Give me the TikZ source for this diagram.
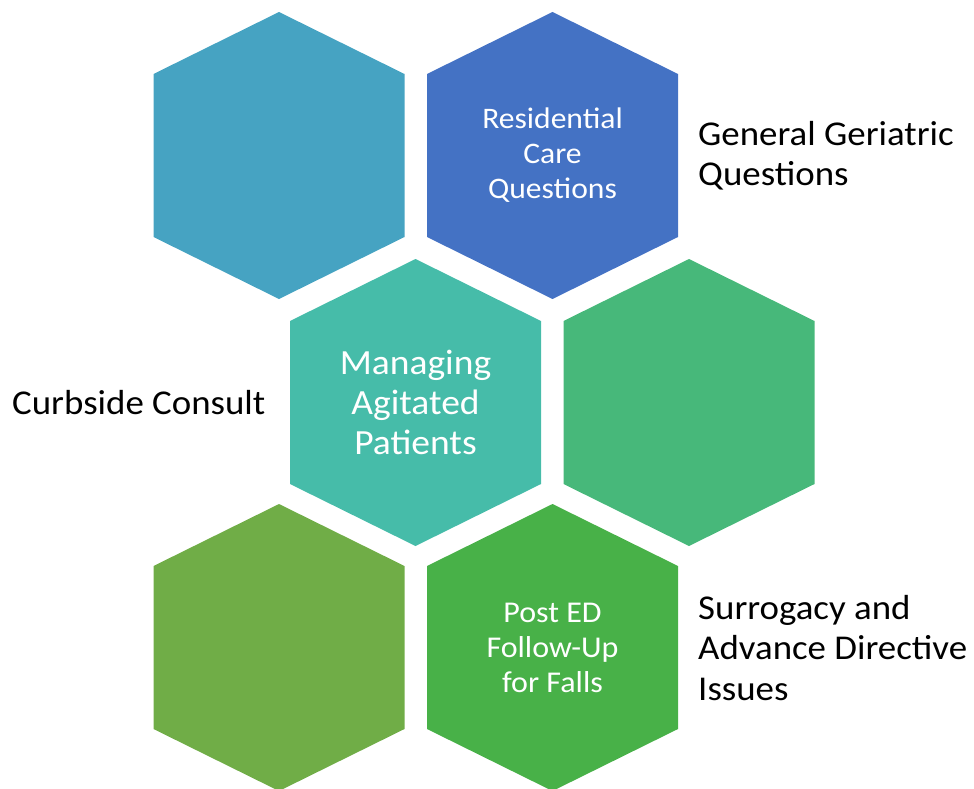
\documentclass[tikz,border=0pt]{standalone}
\usepackage{fontspec}
\setmainfont{Carlito}[FakeStretch=1.06]
\usetikzlibrary{positioning}
\usetikzlibrary{calc}

\definecolor{hexteal}{HTML}{46A3C2}
\definecolor{hexblue}{HTML}{4472C4}
\definecolor{hexmint}{HTML}{46BCA9}
\definecolor{hexjade}{HTML}{47B87A}
\definecolor{hexolive}{HTML}{70AD47}
\definecolor{hexgreen}{HTML}{48B148}

\begin{document}
\begin{tikzpicture}[x=1pt, y=-1pt,
    hextext/.style={white, align=center, inner sep=0pt, font=\fontsize{29.8}{35}\selectfont},
    sidetext/.style={black, align=left, anchor=west, inner sep=0pt, font=\fontsize{34.8}{40.5}\selectfont}]

  \useasboundingbox (0,0) rectangle (974,789);

	%hexagon size
 \def\w{125.5};
 \def\h{143.5};
 \def\s{81.5};

	%draw hexagons
    \foreach \cx/\cy/\col/\name in { 279/155.5/hexteal/H1, 552.5/155.5/hexblue/H2,
        415.5/402.5/hexmint/H3, 689/402.5/hexjade/H4,
        279/647.5/hexolive/H5, 552.5/647.5/hexgreen/H6}{
         \fill[\col] (\cx,\cy-\h) -- (\cx+\w,\cy-\s) -- (\cx+\w,\cy+\s) -- (\cx,\cy+\h)
              -- (\cx-\w,\cy+\s) -- (\cx-\w,\cy-\s) -- cycle;
         \coordinate (\name) at (\cx,\cy);
    }

%text in the hexagons
  \node[hextext] (care) at (H2) {Residential\\Care\\Questions};
  \node[hextext, font=\fontsize{35.4}{40}\selectfont] (agit) at (H3) {Managing\\Agitated\\Patients};
  \node[hextext, font=\fontsize{30.2}{35}\selectfont] (falls) at (H6) {Post ED\\Follow-Up\\for Falls};

%labels beside
  \node[sidetext] (geri) at (698,155.5) {General Geriatric\\Questions};
  \node[sidetext] (curb) at (12,402.5) {Curbside Consult};
  \node[sidetext] (surr) at (698,648) {Surrogacy and\\Advance Directive\\Issues};

\end{tikzpicture}
\end{document}
